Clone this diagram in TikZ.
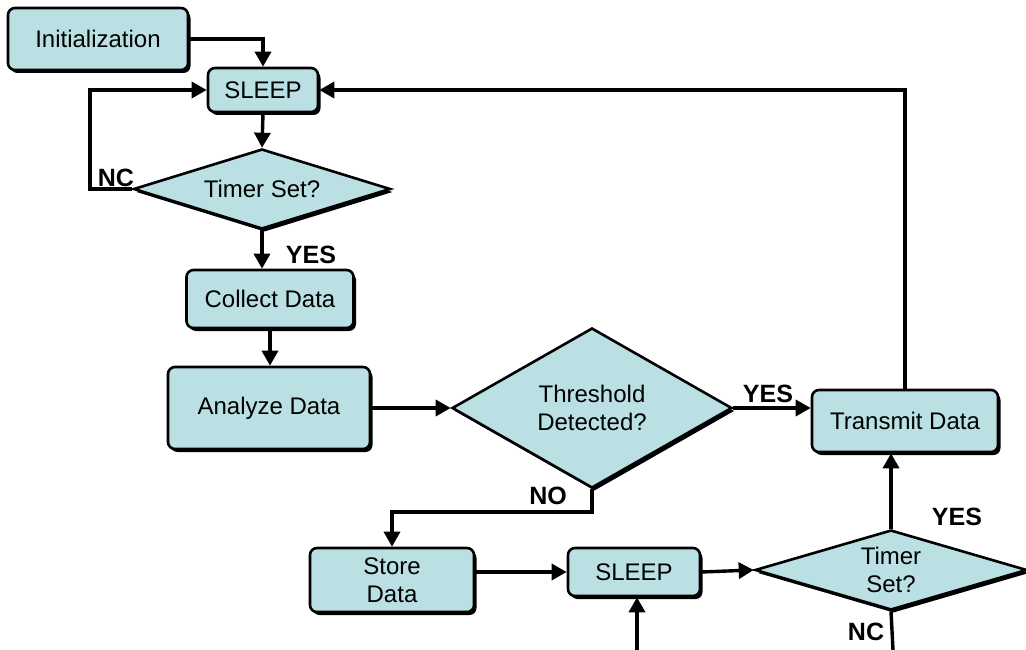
\documentclass[tikz,border=0pt]{standalone}
\usepackage{fontspec}
\setmainfont{Liberation Sans}
\usetikzlibrary{arrows.meta,shapes.geometric,shadows}
\definecolor{boxfill}{RGB}{186,224,228}
\begin{document}
\begin{tikzpicture}[x=1pt,y=-1pt,
  every node/.style={font=\fontsize{24}{28}\selectfont},
  shade/.style={drop shadow={shadow xshift=2.5pt,shadow yshift=-3pt,fill=black,opacity=1}},
  stepbox/.style={draw=black,line width=2.6pt,fill=boxfill,rounded corners=7pt,
    inner sep=0pt,align=center,shade},
  choice/.style={draw=black,line width=2.6pt,fill=boxfill,shape=diamond,
    inner sep=0pt,align=center,shade},
  arr/.style={line width=3.4pt,-{Triangle[length=15pt,width=16pt]}},
  ln/.style={line width=3.4pt},
  lbl/.style={font=\fontsize{25}{27}\bfseries\selectfont,inner sep=0pt}]
\useasboundingbox (0,0) rectangle (1026,650);

% process boxes
\node[stepbox,minimum width=180pt,minimum height=62pt] (init) at (98,39) {Initialization};
\node[stepbox,minimum width=110pt,minimum height=44pt] (sleepA) at (263,90) {SLEEP};
\node[stepbox,minimum width=167pt,minimum height=58pt] (collect) at (270,299) {Collect Data};
\node[stepbox,minimum width=202pt,minimum height=82pt] (analyze) at (269,408) {Analyze Data};
\node[stepbox,minimum width=186pt,minimum height=62pt] (transmit) at (905,421) {Transmit Data};
\node[stepbox,minimum width=164pt,minimum height=64pt] (store) at (392,580) {Store\\Data};
\node[stepbox,minimum width=132pt,minimum height=48pt] (sleepB) at (634,572) {SLEEP};

% decisions
\node[choice,aspect=3.2,minimum width=257pt,minimum height=80pt] (timerA) at (262,189) {Timer Set?};
\node[choice,aspect=1.75,minimum width=280pt,minimum height=160pt] (thresh) at (592,408) {Threshold\\Detected?};
\node[choice,aspect=3.4,minimum width=272pt,minimum height=80pt] (timerB) at (891,570) {Timer\\Set?};

% free ends and bends
\coordinate (ncA) at (90,189);
\coordinate (noA) at (592,512);
\coordinate (ncB) at (893,650);
\coordinate (inB) at (637,650);

% connectors
\draw[arr] (init.east) -| (sleepA.north);
\draw[arr] (sleepA.south) -- (timerA.north);
\draw[arr] (timerA.west) -- (ncA) |- (sleepA.west);
\draw[arr] (timerA.south) -- (timerA.south |- collect.north);
\draw[arr] (collect.south) -- (collect.south |- analyze.north);
\draw[arr] (analyze.east) -- (thresh.west);
\draw[arr] (thresh.east) -- (thresh.east -| transmit.west);
\draw[arr] (transmit.north) |- (sleepA.east);
\draw[arr] (thresh.south) -- (noA) -| (store.north);
\draw[arr] (sleepB.west -| store.east) -- (sleepB.west);
\draw[arr] (sleepB.east) -- (timerB.west);
\draw[arr] (timerB.north) -- (timerB.north |- transmit.south);
\draw[ln] (timerB.south) -- (ncB);
\draw[arr] (inB) -- (inB |- sleepB.south);

% branch labels
\node[lbl] (lncA) at (116,178) {NC};
\node[lbl] (lyesA) at (311,255) {YES};
\node[lbl] (lyesT) at (768,394) {YES};
\node[lbl] (lnoT) at (548,496) {NO};
\node[lbl] (lyesB) at (957,517) {YES};
\node[lbl] (lncB) at (866,632) {NC};
\end{tikzpicture}
\end{document}
